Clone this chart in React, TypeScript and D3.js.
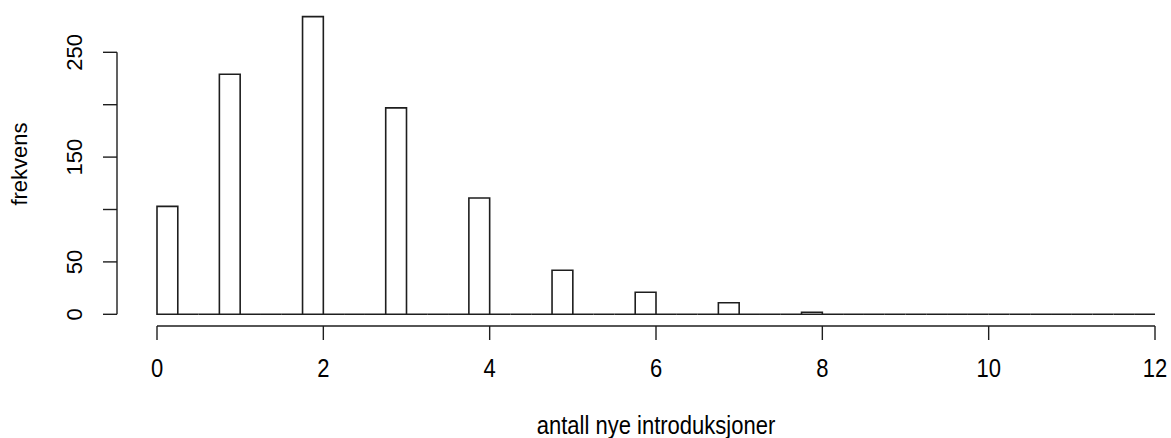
import React from "react";
import * as d3 from "d3";

// Histogram of the number of new introductions per run
const introductions = [0, 1, 2, 3, 4, 5, 6, 7, 8];
const frequencies = [103, 229, 284, 197, 111, 42, 21, 11, 2];
const binWidth = 0.25;
const xDomain = [0, 12];

const xTicks = [0, 2, 4, 6, 8, 10, 12];
const yTicks = [0, 50, 100, 150, 200, 250];
const yTickLabels = [0, 50, 150, 250];

const xTitle = "antall nye introduksjoner";
const yTitle = "frekvens";

const W = 1171;
const H = 438;
const FONT = "'Liberation Sans', Arial, sans-serif";
const STROKE = "#1e1e1e";
// horizontal labels are drawn slightly taller than wide
const TEXT_STRETCH = 1.13;

export default function App() {
  const x = d3.scaleLinear().domain(xDomain).range([157, 1155]);
  const y = d3.scaleLinear().domain([0, 250]).range([314.3, 52.3]);

  // R-style bins: right-closed intervals, lowest included
  const nBins = Math.round((xDomain[1] - xDomain[0]) / binWidth);
  const bins = d3.range(nBins).map((i) => {
    const lo = xDomain[0] + i * binWidth;
    const hi = lo + binWidth;
    let count = 0;
    introductions.forEach((v, j) => {
      const inBin = i === 0 ? v >= lo && v <= hi : v > lo && v <= hi;
      if (inBin) count += frequencies[j];
    });
    return { lo, hi, count };
  });

  const axisY = 326;

  return (
    <svg
      width={W}
      height={H}
      style={{ position: "absolute", left: 0, top: 0, background: "#fff" }}
    >
      {/* bins */}
      <g fill="#fff" stroke={STROKE} strokeWidth={1.6}>
        {bins.map((b, i) => {
          const x0 = x(b.lo);
          const x1 = x(b.hi);
          const y0 = y(0);
          const y1 = y(b.count);
          return (
            <path
              key={i}
              d={`M${x0},${y0}L${x0},${y1}L${x1},${y1}L${x1},${y0}Z`}
            />
          );
        })}
      </g>

      {/* x axis */}
      <g stroke={STROKE} strokeWidth={1.4} fill="none">
        <line x1={x(xTicks[0])} x2={x(xTicks[xTicks.length - 1])} y1={axisY} y2={axisY} />
        {xTicks.map((t) => (
          <line key={t} x1={x(t)} x2={x(t)} y1={axisY} y2={axisY + 14} />
        ))}
      </g>
      <g fontFamily={FONT} fontSize={22} fill="#000" textAnchor="middle">
        {xTicks.map((t) => (
          <text key={t} transform={`translate(${x(t)},377) scale(1,${TEXT_STRETCH})`}>
            {t}
          </text>
        ))}
        <text
          transform={`translate(${(x(xDomain[0]) + x(xDomain[1])) / 2},434) scale(1,${TEXT_STRETCH})`}
        >
          {xTitle}
        </text>
      </g>

      {/* y axis */}
      <g stroke={STROKE} strokeWidth={1.4} fill="none">
        <line x1={117} x2={117} y1={y(yTicks[0])} y2={y(yTicks[yTicks.length - 1])} />
        {yTicks.map((t) => (
          <line key={t} x1={103} x2={117} y1={y(t)} y2={y(t)} />
        ))}
      </g>
      <g fontFamily={FONT} fontSize={22} fill="#000" textAnchor="middle">
        {yTickLabels.map((t) => (
          <text key={t} transform={`translate(82,${y(t)}) rotate(-90)`}>
            {t}
          </text>
        ))}
        <text transform={`translate(27,164) rotate(-90)`}>{yTitle}</text>
      </g>
    </svg>
  );
}
